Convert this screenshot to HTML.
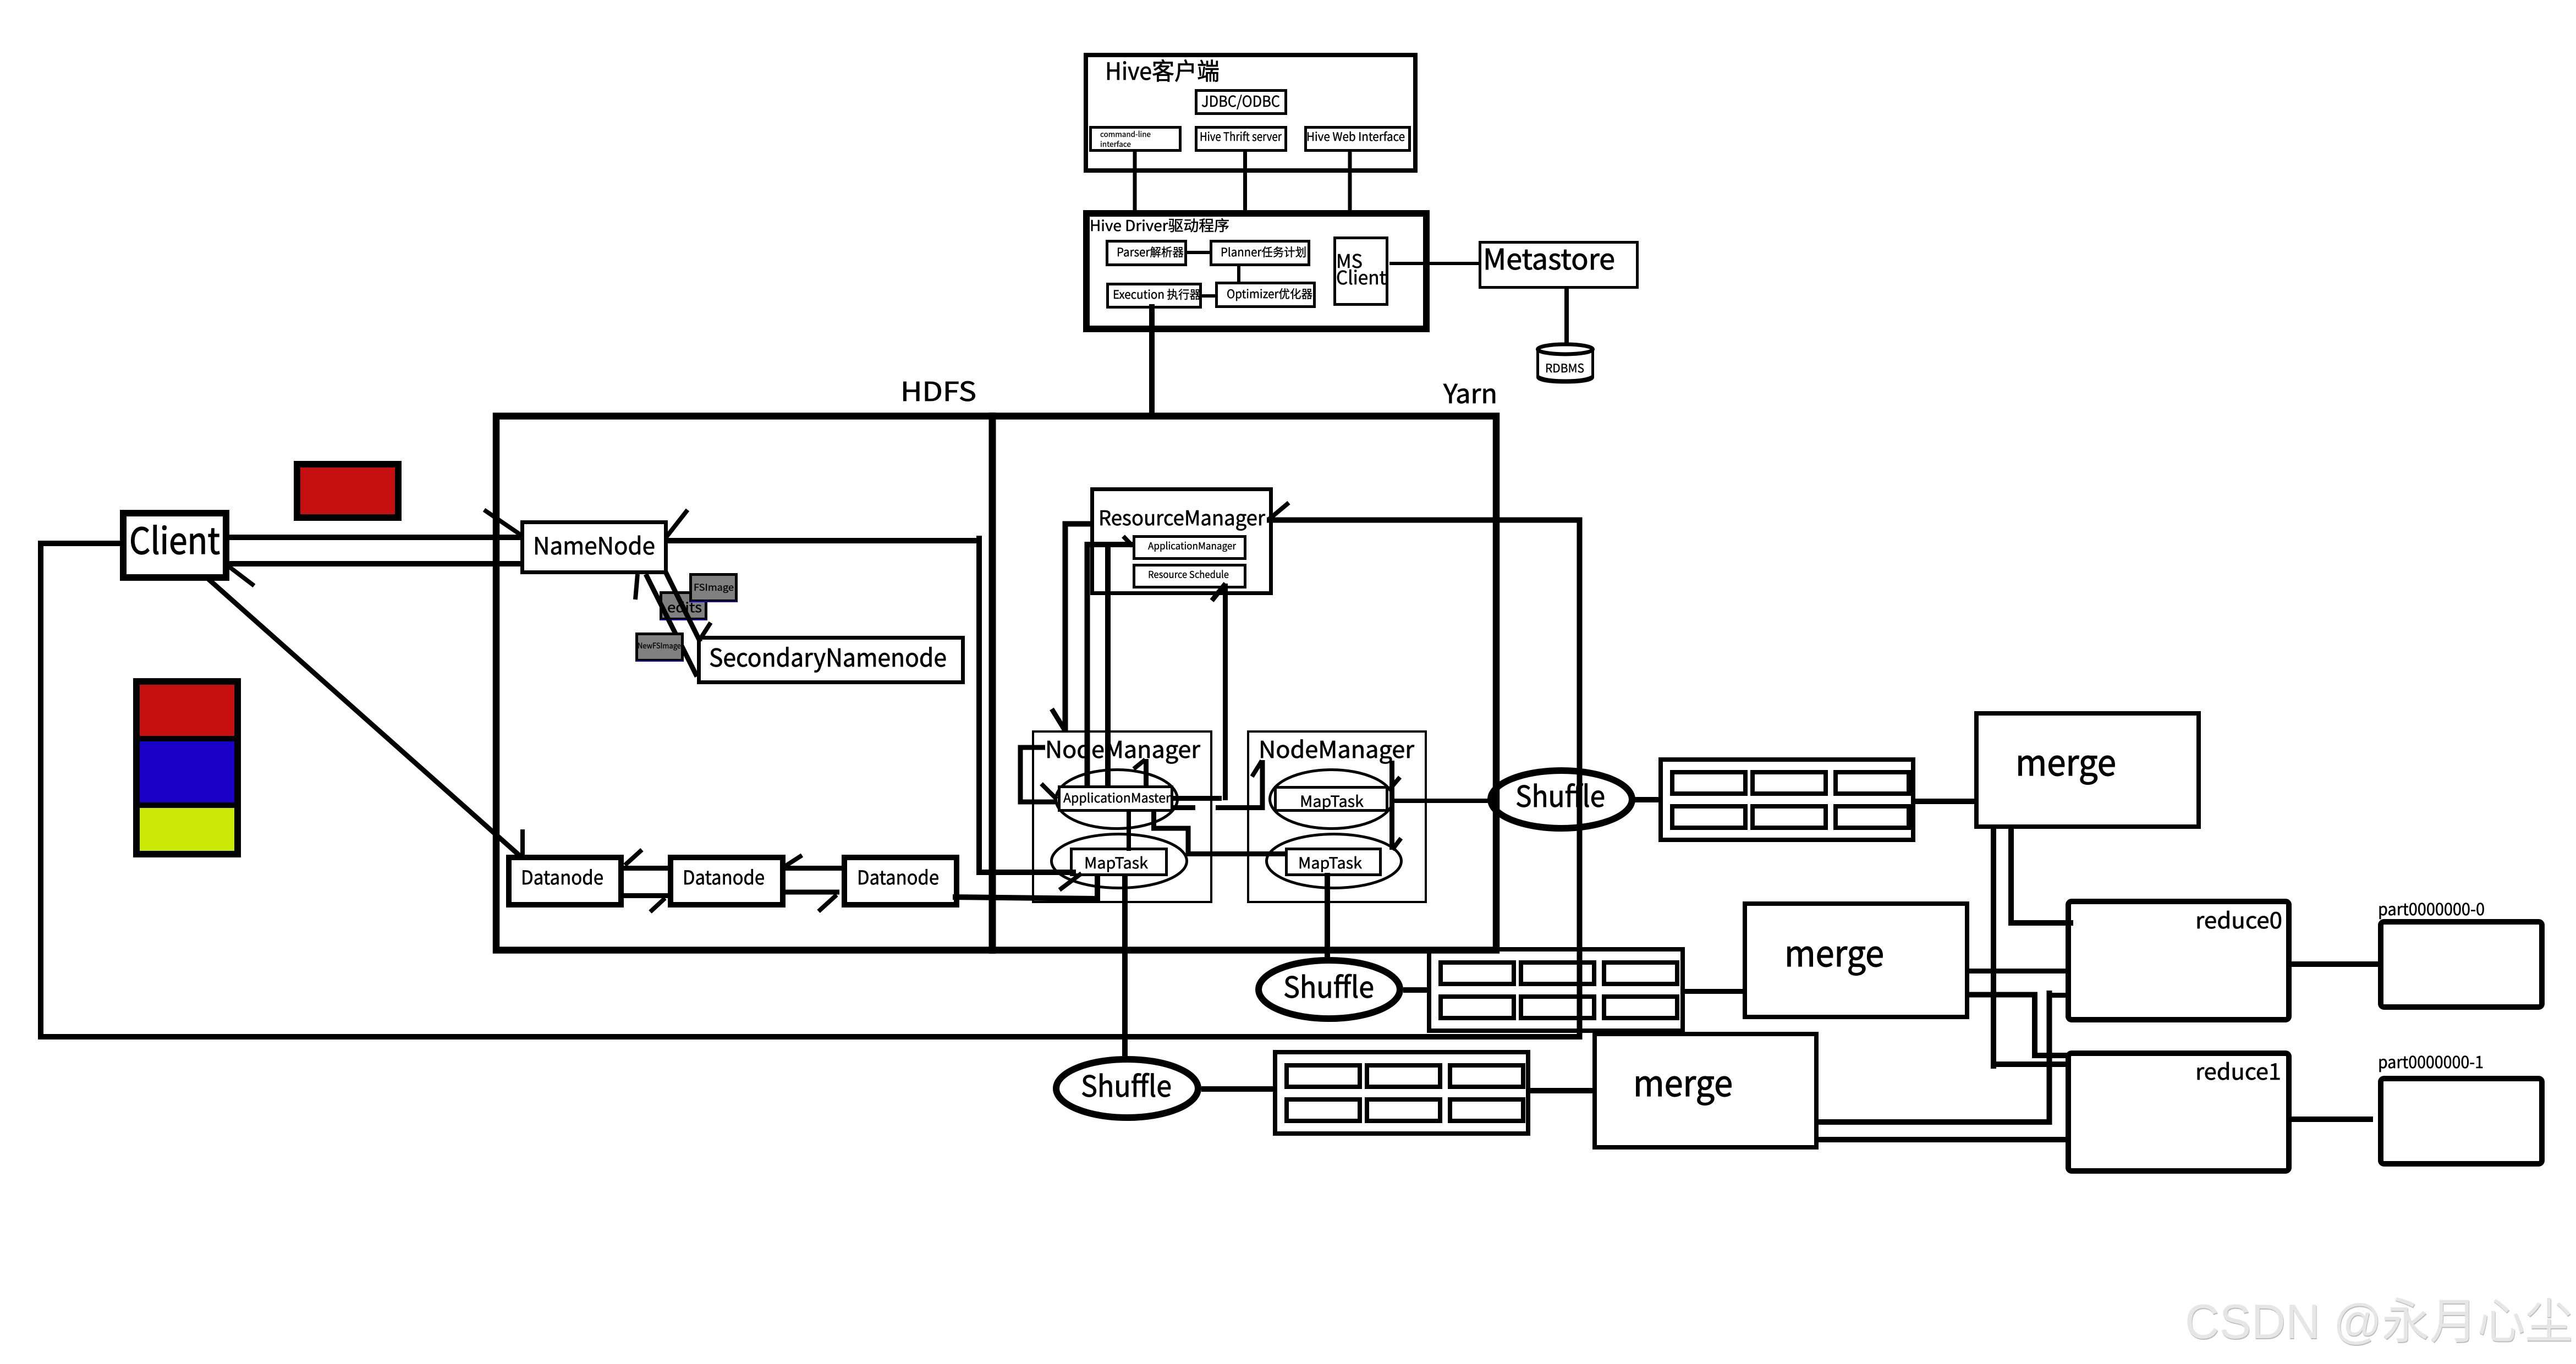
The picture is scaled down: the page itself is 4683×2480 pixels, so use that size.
<!DOCTYPE html>
<html lang="zh">
<head>
<meta charset="utf-8">
<title>Hadoop Hive diagram</title>
<style>
html,body{margin:0;padding:0;background:#fff}
svg{display:block}
.b{fill:#fff;stroke:#000}
.l{fill:none;stroke:#000;stroke-linejoin:miter;stroke-linecap:butt}
text{font-family:"Noto Sans CJK SC","Liberation Sans",sans-serif;fill:#000;stroke:#000;stroke-width:.018em}
.w{font-family:"Liberation Sans","Noto Sans CJK SC",sans-serif;stroke:none}
</style>
</head>
<body>
<svg xmlns="http://www.w3.org/2000/svg" width="4683" height="2480" viewBox="0 0 4683 2480">
<rect width="4683" height="2480" fill="#fff"/>

<!-- Hive client -->
<g class="b">
<rect class="b" x="1974" y="100" width="599" height="210" stroke-width="8"/>
<rect class="b" x="2174.5" y="164.5" width="163" height="42" stroke-width="5"/>
<rect class="b" x="1982.5" y="231.5" width="163" height="42" stroke-width="5"/>
<rect class="b" x="2174.5" y="231.5" width="163" height="42" stroke-width="5"/>
<rect class="b" x="2373.5" y="231.5" width="189" height="42" stroke-width="5"/>
<!-- Driver -->
<rect class="b" x="1975" y="388" width="618" height="210" stroke-width="12"/>
<rect class="b" x="2012.5" y="438.5" width="143" height="43" stroke-width="5"/>
<rect class="b" x="2201.5" y="438.5" width="178" height="43" stroke-width="5"/>
<rect class="b" x="2211.5" y="514.5" width="178" height="43" stroke-width="5"/>
<rect class="b" x="2013.5" y="516.5" width="169" height="42" stroke-width="5"/>
<rect class="b" x="2426.5" y="432.5" width="95" height="121" stroke-width="5"/>
<rect class="b" x="2690.5" y="440.5" width="286" height="82" stroke-width="5"/>
</g>

<!-- RDBMS cylinder -->
<path class="b" stroke-width="5" d="M2795.5 638V686C2795.5 692 2818 695 2845.5 695S2895.5 692 2895.5 686V638"/>
<ellipse class="b" cx="2845.5" cy="635" rx="50" ry="9" stroke-width="7"/>
<path class="l" stroke-width="5" d="M2795.5 684C2805 690 2825 692 2845.5 692S2886 690 2895.5 684"/>

<!-- Client and legends -->
<rect class="b" x="224" y="933" width="187" height="117" stroke-width="12"/>
<rect x="540" y="844" width="184" height="97" fill="#c5100f" stroke="#000" stroke-width="12"/>
<rect x="242" y="1233" width="196" height="326" fill="#000"/>
<rect x="254" y="1245" width="172" height="93" fill="#c5100f"/>
<rect x="254" y="1348" width="172" height="111" fill="#1800c7"/>
<rect x="254" y="1469" width="172" height="78" fill="#cbe807"/>

<!-- HDFS nodes -->
<rect class="b" x="949.5" y="949.5" width="261" height="91" stroke-width="7"/>
<rect class="b" x="1270.5" y="1159.5" width="480" height="81" stroke-width="7"/>
<rect class="b" x="925" y="1559" width="204" height="86" stroke-width="10"/>
<rect class="b" x="1219" y="1559" width="204" height="86" stroke-width="10"/>
<rect class="b" x="1535" y="1559" width="204" height="86" stroke-width="10"/>
<rect x="1201.5" y="1077.5" width="82" height="48" fill="#808080" stroke="#000" stroke-width="5"/>
<rect x="1200" y="1126" width="85" height="2" fill="#1800c7"/>

<!-- Yarn nodes -->
<rect class="b" x="1985.5" y="889.5" width="325" height="189" stroke-width="7"/>
<rect class="b" x="2061.5" y="975.5" width="202" height="40" stroke-width="5"/>
<rect class="b" x="2061.5" y="1027.5" width="202" height="40" stroke-width="5"/>
<rect class="b" x="1878" y="1330" width="324" height="310" stroke-width="4"/>
<rect class="b" x="2269" y="1330" width="323" height="310" stroke-width="4"/>
<ellipse class="b" cx="2030" cy="1453" rx="110.5" ry="53.5" stroke-width="5"/>
<ellipse class="b" cx="2034.5" cy="1565.5" rx="123" ry="49" stroke-width="5"/>
<ellipse class="b" cx="2420.5" cy="1453" rx="112" ry="53.5" stroke-width="5"/>
<ellipse class="b" cx="2425" cy="1565.5" rx="122.5" ry="49" stroke-width="5"/>
<rect class="b" x="1925.5" y="1430.5" width="205" height="43" stroke-width="5"/>
<rect class="b" x="1947.5" y="1543.5" width="173" height="47" stroke-width="5"/>
<rect class="b" x="2318.5" y="1431.5" width="203" height="42" stroke-width="5"/>
<rect class="b" x="2338.5" y="1543.5" width="171" height="47" stroke-width="5"/>

<!-- Shuffles -->
<ellipse class="b" cx="2838.5" cy="1453.5" rx="128.5" ry="52.5" stroke-width="12"/>
<ellipse class="b" cx="2416.5" cy="1799" rx="128.5" ry="53" stroke-width="12"/>
<ellipse class="b" cx="2049" cy="1979" rx="129" ry="53" stroke-width="12"/>

<!-- Buffers -->
<rect class="b" x="3019" y="1381" width="459" height="146" stroke-width="8"/>
<rect class="b" x="3040" y="1404" width="133" height="39" stroke-width="8"/>
<rect class="b" x="3186" y="1404" width="133" height="39" stroke-width="8"/>
<rect class="b" x="3337" y="1404" width="133" height="39" stroke-width="8"/>
<rect class="b" x="3040" y="1466" width="133" height="39" stroke-width="8"/>
<rect class="b" x="3186" y="1466" width="133" height="39" stroke-width="8"/>
<rect class="b" x="3337" y="1466" width="133" height="39" stroke-width="8"/>

<rect class="b" x="2598" y="1726" width="461" height="148" stroke-width="8"/>
<rect class="b" x="2619" y="1750" width="133" height="39" stroke-width="8"/>
<rect class="b" x="2765" y="1750" width="133" height="39" stroke-width="8"/>
<rect class="b" x="2916" y="1750" width="133" height="39" stroke-width="8"/>
<rect class="b" x="2619" y="1812" width="133" height="39" stroke-width="8"/>
<rect class="b" x="2765" y="1812" width="133" height="39" stroke-width="8"/>
<rect class="b" x="2916" y="1812" width="133" height="39" stroke-width="8"/>

<rect class="b" x="2318" y="1913" width="460" height="148" stroke-width="8"/>
<rect class="b" x="2339" y="1937" width="133" height="39" stroke-width="8"/>
<rect class="b" x="2485" y="1937" width="133" height="39" stroke-width="8"/>
<rect class="b" x="2636" y="1937" width="133" height="39" stroke-width="8"/>
<rect class="b" x="2339" y="1999" width="133" height="39" stroke-width="8"/>
<rect class="b" x="2485" y="1999" width="133" height="39" stroke-width="8"/>
<rect class="b" x="2636" y="1999" width="133" height="39" stroke-width="8"/>

<!-- Merge, reduce, output -->
<rect class="b" x="3593" y="1297" width="404" height="206" stroke-width="8"/>
<rect class="b" x="3172" y="1643" width="404" height="206" stroke-width="8"/>
<rect class="b" x="2899" y="1880" width="403" height="206" stroke-width="8"/>
<rect class="b" x="3760" y="1639" width="401" height="215" rx="6" stroke-width="10"/>
<rect class="b" x="3760" y="1915" width="401" height="214" rx="6" stroke-width="10"/>
<rect class="b" x="4328" y="1676" width="293" height="155" rx="6" stroke-width="10"/>
<rect class="b" x="4328" y="1961" width="293" height="155" rx="6" stroke-width="10"/>

<!-- Connectors: Hive -->
<path class="l" stroke-width="7" d="M2063 276V382M2263.5 276V382M2454 276V382"/>
<path class="l" stroke-width="6" d="M2158 459H2199M2252 484V512M2185 538H2209M2526 479H2689"/>
<path class="l" stroke-width="8" d="M2848 525V627"/>
<path class="l" stroke-width="10" d="M2094 553V751"/>

<!-- Connectors: HDFS -->
<path class="l" stroke-width="10" d="M417 977H950M417 1025H950"/>
<path class="l" stroke-width="9" d="M379 1053L945 1556"/>
<path class="l" stroke-width="8" d="M416 1030L462 1065M950 1508V1555M880 927L946 972M1250 927L1210 978M1159 1044L1155 1090M1292 1132L1274 1160"/>
<path class="l" stroke-width="10" d="M1214 983H1780M1780 974V1586H1956"/>
<path class="l" stroke-width="9" d="M1174 1044L1267 1230M1210 1040L1273 1167"/>
<path class="l" stroke-width="9" d="M1134 1578.5H1214M1428 1578.5H1530M1134 1628.5H1214M1428 1622H1526"/>
<path class="l" stroke-width="8" d="M1167 1545L1136 1573M1458 1555L1427 1575M1209 1633L1182 1658M1521 1627L1488 1657"/>
<path class="l" stroke-width="10" d="M1732 1631L1995 1634V1593"/>
<path class="l" stroke-width="10" d="M2045 1593V1920"/>
<path class="l" stroke-width="8" d="M2052 1476V1547M1966 1588L1926 1618"/>

<!-- FS image boxes over lines -->
<rect x="1255.5" y="1044.5" width="83" height="48" fill="#808080" stroke="#000" stroke-width="5"/>
<rect x="1254" y="1093" width="86" height="2" fill="#1800c7"/>
<rect x="1157.5" y="1152.5" width="83" height="48" fill="#808080" stroke="#000" stroke-width="5"/>
<rect x="1156" y="1201" width="86" height="2" fill="#1800c7"/>

<!-- Connectors: Yarn -->
<path class="l" stroke-width="10" d="M1984 952.5H1936.5V1328"/>
<path class="l" stroke-width="9" d="M1912 1289L1936 1328"/>
<path class="l" stroke-width="10" d="M2064 990H1976.5V1430M2014 995V1430"/>
<path class="l" stroke-width="8" d="M2042 975L2059 993"/>
<path class="l" stroke-width="9" d="M2133 1451.5H2221M2227.5 1061V1455M2228 1061L2203 1092"/>
<path class="l" stroke-width="9" d="M1900 1359H1855V1458H1921"/>
<path class="l" stroke-width="8" d="M1893 1425L1921 1453M2061 1398L2082 1381"/>
<path class="l" stroke-width="9" d="M2083.5 1380V1430"/>
<path class="l" stroke-width="9" d="M2097.5 1476V1506H2160V1552.5H2336"/>
<path class="l" stroke-width="9" d="M2133 1468.5H2173M2210 1468.5H2295V1382"/>
<path class="l" stroke-width="8" d="M2276 1412L2294 1383"/>
<path class="l" stroke-width="9" d="M2530.5 1383V1545"/>
<path class="l" stroke-width="8" d="M2545 1413L2528 1433M2547 1524L2531 1545M2531 1456H2710"/>
<path class="l" stroke-width="10" d="M2413 1587V1740"/>
<path class="l" stroke-width="8" d="M2343 914L2307 944"/>

<!-- Connectors: Shuffle, merge, reduce -->
<path class="l" stroke-width="10" d="M2972 1454H3015M3475 1457H3589M2551 1800H2597M2184 1980H2315M2774 1983H2895"/>
<path class="l" stroke-width="9" d="M3061 1802.5H3168"/>
<path class="l" stroke-width="10" d="M3624 1507V1943M3625 1935H3760M3656 1507V1678H3769"/>
<path class="l" stroke-width="9" d="M3579 1765.5H3757M3725 1809.5H3760"/>
<path class="l" stroke-width="10" d="M3579 1808.5H3699V1919H3760M3725.5 1801V2040H3306M3306 2072H3757M4166 1753H4323M4166 2035H4314"/>

<!-- Frames -->
<rect x="902" y="756.5" width="1818" height="971" fill="none" stroke="#000" stroke-width="12.5"/>
<path class="l" stroke-width="13" d="M1804 750V1734"/>

<!-- Long return line -->
<path class="l" stroke-width="10" d="M218 988H74V1885H2871.5V945.5H2303"/>

<!-- Text -->
<text x="2009" y="145" font-size="43" textLength="208" lengthAdjust="spacingAndGlyphs">Hive客户端</text>
<text x="2184" y="194" font-size="27" textLength="143" lengthAdjust="spacingAndGlyphs">JDBC/ODBC</text>
<text x="2000" y="249" font-size="14" textLength="92" lengthAdjust="spacingAndGlyphs">command-line</text>
<text x="2000" y="267" font-size="14" textLength="56" lengthAdjust="spacingAndGlyphs">interface</text>
<text x="2181" y="256" font-size="21" textLength="149" lengthAdjust="spacingAndGlyphs">Hive Thrift server</text>
<text x="2375" y="256" font-size="21" textLength="179" lengthAdjust="spacingAndGlyphs">Hive Web Interface</text>
<text x="1981" y="420" font-size="27" textLength="254" lengthAdjust="spacingAndGlyphs">Hive Driver驱动程序</text>
<text x="2030" y="466" font-size="21" textLength="122" lengthAdjust="spacingAndGlyphs">Parser解析器</text>
<text x="2219" y="466" font-size="21" textLength="156" lengthAdjust="spacingAndGlyphs">Planner任务计划</text>
<text x="2023" y="543" font-size="21" textLength="160" lengthAdjust="spacingAndGlyphs">Execution 执行器</text>
<text x="2230" y="542" font-size="21" textLength="156" lengthAdjust="spacingAndGlyphs">Optimizer优化器</text>
<text x="2429" y="487" font-size="34" textLength="48" lengthAdjust="spacingAndGlyphs">MS</text>
<text x="2429" y="517" font-size="34" textLength="91" lengthAdjust="spacingAndGlyphs">Client</text>
<text x="2696" y="490" font-size="52" textLength="240" lengthAdjust="spacingAndGlyphs">Metastore</text>
<text x="2809" y="677" font-size="21" textLength="71" lengthAdjust="spacingAndGlyphs">RDBMS</text>
<text x="2624" y="733" font-size="48" textLength="98" lengthAdjust="spacingAndGlyphs">Yarn</text>
<text x="1637" y="729" font-size="48" textLength="138" lengthAdjust="spacingAndGlyphs">HDFS</text>

<text x="235" y="1007" font-size="66" textLength="165" lengthAdjust="spacingAndGlyphs">Client</text>
<text x="969" y="1008" font-size="43" textLength="222" lengthAdjust="spacingAndGlyphs">NameNode</text>
<text x="1289" y="1212" font-size="45" textLength="432" lengthAdjust="spacingAndGlyphs">SecondaryNamenode</text>
<text x="1261" y="1074" font-size="17" textLength="73" lengthAdjust="spacingAndGlyphs">FSImage</text>
<text x="1213" y="1113" font-size="24" textLength="63" lengthAdjust="spacingAndGlyphs">edits</text>
<text x="1159" y="1179" font-size="14" textLength="79" lengthAdjust="spacingAndGlyphs">NewFSImage</text>
<text x="947" y="1608" font-size="35" textLength="150" lengthAdjust="spacingAndGlyphs">Datanode</text>
<text x="1241" y="1608" font-size="35" textLength="149" lengthAdjust="spacingAndGlyphs">Datanode</text>
<text x="1558" y="1608" font-size="35" textLength="149" lengthAdjust="spacingAndGlyphs">Datanode</text>

<text x="1997" y="955" font-size="37" textLength="303" lengthAdjust="spacingAndGlyphs">ResourceManager</text>
<text x="2087" y="999" font-size="18" textLength="160" lengthAdjust="spacingAndGlyphs">ApplicationManager</text>
<text x="2087" y="1051" font-size="18" textLength="147" lengthAdjust="spacingAndGlyphs">Resource Schedule</text>
<text x="1900" y="1378" font-size="42" textLength="282" lengthAdjust="spacingAndGlyphs">NodeManager</text>
<text x="2288" y="1378" font-size="42" textLength="283" lengthAdjust="spacingAndGlyphs">NodeManager</text>
<text x="1933" y="1459" font-size="23" textLength="195" lengthAdjust="spacingAndGlyphs">ApplicationMaster</text>
<text x="1971" y="1579" font-size="28" textLength="116" lengthAdjust="spacingAndGlyphs">MapTask</text>
<text x="2363" y="1467" font-size="28" textLength="116" lengthAdjust="spacingAndGlyphs">MapTask</text>
<text x="2360" y="1579" font-size="28" textLength="116" lengthAdjust="spacingAndGlyphs">MapTask</text>

<text x="2755" y="1467" font-size="53" textLength="163" lengthAdjust="spacingAndGlyphs">Shuffle</text>
<text x="2333" y="1814" font-size="53" textLength="165" lengthAdjust="spacingAndGlyphs">Shuffle</text>
<text x="1965" y="1994" font-size="53" textLength="165" lengthAdjust="spacingAndGlyphs">Shuffle</text>

<text x="3664" y="1410" font-size="65" textLength="183" lengthAdjust="spacingAndGlyphs">merge</text>
<text x="3244" y="1757" font-size="65" textLength="181" lengthAdjust="spacingAndGlyphs">merge</text>
<text x="2969" y="1993" font-size="65" textLength="181" lengthAdjust="spacingAndGlyphs">merge</text>
<text x="3991" y="1688" font-size="40" textLength="158" lengthAdjust="spacingAndGlyphs">reduce0</text>
<text x="3991" y="1963" font-size="40" textLength="156" lengthAdjust="spacingAndGlyphs">reduce1</text>
<text x="4323" y="1664" font-size="30" textLength="194" lengthAdjust="spacingAndGlyphs">part0000000-0</text>
<text x="4323" y="1942" font-size="30" textLength="192" lengthAdjust="spacingAndGlyphs">part0000000-1</text>

<!-- Watermark -->
<text class="w" x="3973" y="2435" font-size="88" textLength="705" lengthAdjust="spacingAndGlyphs" style="fill:#bdbdbd">CSDN @永月心尘</text>
<text class="w" x="3972" y="2433" font-size="88" textLength="705" lengthAdjust="spacingAndGlyphs" style="fill:#e6e6e6">CSDN @永月心尘</text>
</svg>
</body>
</html>
